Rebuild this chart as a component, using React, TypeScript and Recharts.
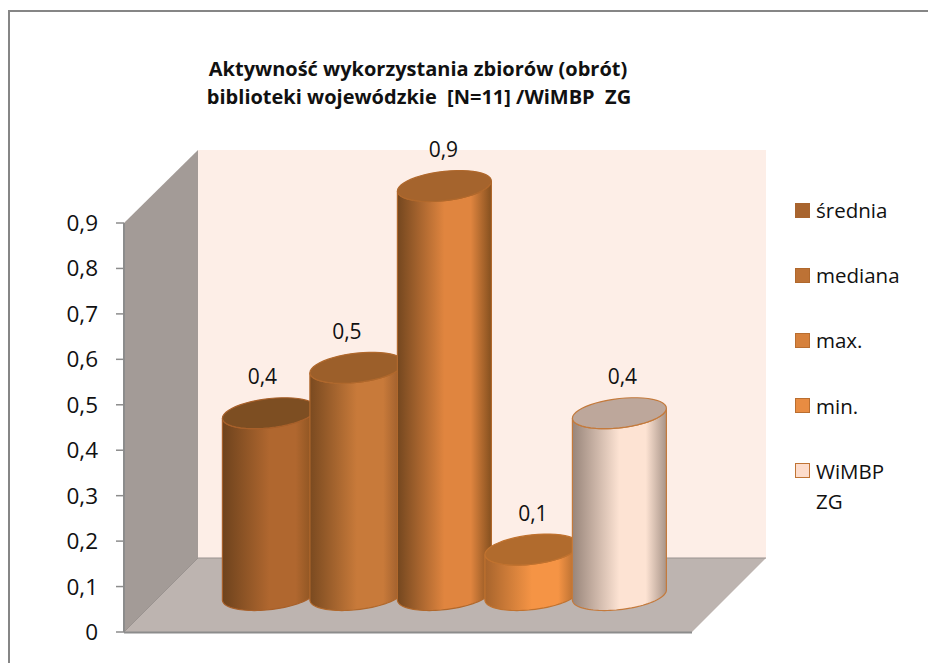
import React from "react";
import { BarChart, Bar, XAxis, YAxis, Legend, LabelList } from "recharts";

const categories = ["2013"];
const seriesNames = ["średnia", "mediana", "max.", "min.", "WiMBP ZG"];
const seriesValues = [0.4, 0.5, 0.9, 0.1, 0.4];
const yTicks = [0, 0.1, 0.2, 0.3, 0.4, 0.5, 0.6, 0.7, 0.8, 0.9];
const titleLines = ["Aktywność wykorzystania zbiorów (obrót)", "biblioteki wojewódzkie  [N=11] /WiMBP  ZG"];

const tableRow: Record<string, any> = { category: categories[0] };
seriesNames.forEach((n, i) => (tableRow[n] = seriesValues[i]));
const table = [tableRow];

const FONT = "'Open Sans', Lato, sans-serif";
const DEPTH_X = 36.4;
const DEPTH_Y = -37;
const TILT = 5;
const RY = 14.7;

const looks = [
  { left: "#6e431d", mid: "#b0672f", right: "#85501f", top: "#7d4e22", stroke: "#a8602a", swatch: "#a8642e", swatchStroke: "#a8642e" },
  { left: "#7a4a20", mid: "#c87a3a", right: "#94582a", top: "#9c5f2a", stroke: "#b0682c", swatch: "#bd7235", swatchStroke: "#b0682c" },
  { left: "#74471f", mid: "#e0853f", right: "#85501f", top: "#a5642d", stroke: "#b0682c", swatch: "#d6813c", swatchStroke: "#b96e30" },
  { left: "#a7642c", mid: "#f59445", right: "#a8652c", top: "#b16b2d", stroke: "#c0722f", swatch: "#e88c42", swatchStroke: "#b96e30" },
  { left: "#98857a", mid: "#fde3d3", right: "#a89488", top: "#bda79b", stroke: "#c47a3c", swatch: "#fddccb", swatchStroke: "#c07434" },
];
const labelNudge = [-7, -10, -1, 1, 3];

function ellipsePoint(cx: number, cy: number, w: number, t: number) {
  const x = cx + w * Math.cos(t);
  const y = cy - TILT * Math.cos(t) + RY * Math.sin(t);
  return `${x.toFixed(2)} ${y.toFixed(2)}`;
}
function arc(cx: number, cy: number, w: number, from: number, to: number) {
  const pts: string[] = [];
  const n = 48;
  for (let i = 0; i <= n; i++) pts.push(ellipsePoint(cx, cy, w, from + ((to - from) * i) / n));
  return pts;
}

const Cylinder = (index: number) => (props: any) => {
  const { x, y, width, height } = props;
  const look = looks[index];
  const w = width / 2;
  const cx = x + w + DEPTH_X;
  const topCy = y + DEPTH_Y;
  const baseCy = y + height + DEPTH_Y;
  const bottom = arc(cx, baseCy, w, Math.PI, 0);
  const rim = arc(cx, topCy, w, 0, Math.PI);
  const body = "M" + [...bottom, ...rim].join(" L") + " Z";
  const lid = "M" + arc(cx, topCy, w, 0, Math.PI * 2).join(" L") + " Z";
  return (
    <g>
      <path d={body} fill={`url(#cyl${index})`} stroke={look.stroke} strokeWidth={1.2} />
      <path d={lid} fill={look.top} stroke={look.stroke} strokeWidth={1.2} />
    </g>
  );
};

const renderLegend = (props: any) => (
  <div style={{ fontFamily: FONT, fontSize: 20.5, color: "#111" }}>
    {(props.payload || []).map((p: any, i: number) => (
      <div key={p.value} style={{ position: "absolute", left: 0, top: i * 65.2, width: 125 }}>
        <div
          style={{
            position: "absolute",
            left: 0,
            top: 0.5,
            width: 13,
            height: 13,
            background: looks[i].swatch,
            border: `1.5px solid ${looks[i].swatchStroke}`,
          }}
        />
        <div style={{ position: "absolute", left: 21, top: -7, width: 90, lineHeight: "30px" }}>{p.value}</div>
      </div>
    ))}
  </div>
);

const makeLabel = (index: number) => (props: any) => {
  const { x, y, width, value } = props;
  return (
    <text
      x={x + width / 2 + DEPTH_X + labelNudge[index]}
      y={y + DEPTH_Y - 37}
      textAnchor="middle"
      dominantBaseline="central"
      fontFamily={FONT}
      fontSize={21}
      fill="#111"
    >
      {String(value).replace(".", ",")}
    </text>
  );
};

export default function App() {
  return (
    <div style={{ position: "absolute", left: 0, top: 0, width: 928, height: 663, background: "#fff", overflow: "hidden" }}>
      <div style={{ position: "absolute", left: 8, top: 10, width: 930, height: 700, border: "2px solid #868686" }} />
      <div style={{ position: "absolute", left: 0, top: 0 }}>
        <BarChart
          width={928}
          height={663}
          data={table}
          margin={{ top: 223, right: 236, bottom: 31, left: 0 }}
          barCategoryGap={0}
          barGap={-6.5}
          barSize={94}
        >
          <defs>
            {looks.map((l, i) => (
              <linearGradient key={i} id={`cyl${i}`} x1="0" y1="0" x2="1" y2="0">
                <stop offset="0" stopColor={l.left} />
                <stop offset="0.5" stopColor={l.mid} />
                <stop offset="0.78" stopColor={l.mid} />
                <stop offset="1" stopColor={l.right} />
              </linearGradient>
            ))}
          </defs>
          <polygon points="198,150 766,150 766,558 198,558" fill="#fdeee7" />
          <polygon points="124,223 198,150 198,558 124,632" fill="#a39b97" />
          <polygon points="124,632 198,558 766,558 692,632" fill="#bdb4b0" />
          <polyline points="124,632 198,558 766,558" fill="none" stroke="#9a9390" strokeWidth={1} />
          <line x1="124" y1="632.5" x2="692" y2="632.5" stroke="#8c8c8c" strokeWidth={2} />
          <text x={418} y={75.5} textAnchor="middle" fontFamily={FONT} fontWeight={700} fontSize={20} fill="#111">
            {titleLines[0]}
          </text>
          <text x={419} y={104} textAnchor="middle" fontFamily={FONT} fontWeight={700} fontSize={20} fill="#111" style={{ whiteSpace: "pre" }}>
            {titleLines[1]}
          </text>
          <XAxis dataKey="category" hide />
          <YAxis
            width={124}
            domain={[0, 0.9]}
            ticks={yTicks}
            interval={0}
            tick={{ fontFamily: FONT, fontSize: 22.5, fill: "#111" }}
            tickLine={{ stroke: "#8c8c8c", strokeWidth: 1.5 }}
            axisLine={{ stroke: "#8c8c8c", strokeWidth: 2 }}
            tickSize={8}
            tickMargin={18}
            tickFormatter={(v: number) => String(v).replace(".", ",")}
          />
          <Legend
            layout="vertical"
            align="center"
            verticalAlign="middle"
            itemSorter={null}
            content={renderLegend}
            wrapperStyle={{ left: 795, top: 202, width: 125, height: 0 }}
          />
          {seriesNames.map((n, i) => (
            <Bar key={n} dataKey={n} name={n} isAnimationActive={false} fill={looks[i].swatch} shape={Cylinder(i)}>
              <LabelList dataKey={n} content={makeLabel(i)} />
            </Bar>
          ))}
        </BarChart>
      </div>
    </div>
  );
}
